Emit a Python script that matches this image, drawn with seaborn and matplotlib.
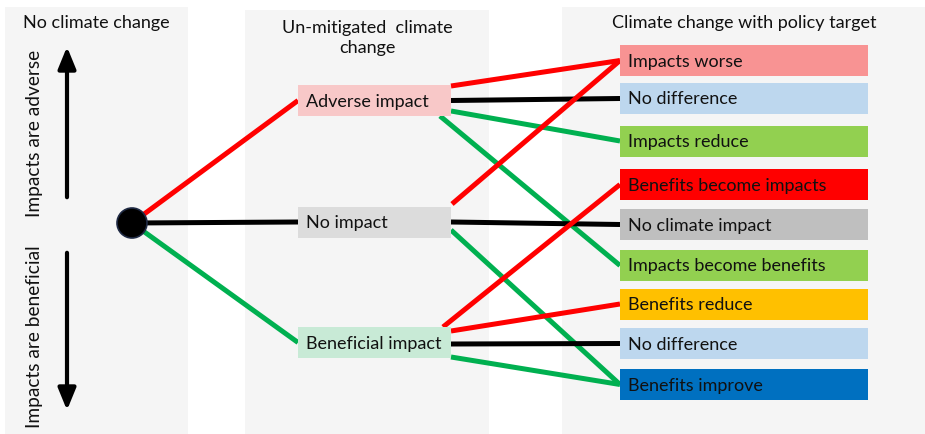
import matplotlib
matplotlib.use("Agg")
import matplotlib.pyplot as plt
import matplotlib.patches as mpatches
import seaborn as sns

sns.set_theme(style="white")
plt.rcParams['font.family'] = ['Lato', 'DejaVu Sans']

# column titles
column_titles = ["No climate change", "Un-mitigated  climate\nchange", "Climate change with policy target"]
axis_labels = ["Impacts are adverse", "Impacts are beneficial"]

# middle stage (un-mitigated)
middle_labels = ["Adverse impact", "No impact", "Beneficial impact"]
middle_colors = ["#f8c8c8", "#dcdcdc", "#c8ead6"]
middle_link_colors = ["#ff0000", "#000000", "#00b050"]

# right stage (with policy target)
right_labels = ["Impacts worse", "No difference", "Impacts reduce",
                "Benefits become impacts", "No climate impact", "Impacts become benefits",
                "Benefits reduce", "No difference", "Benefits improve"]
right_colors = ["#f89393", "#bdd7ee", "#92d050", "#ff0000", "#bfbfbf",
                "#92d050", "#ffc000", "#bdd7ee", "#0070c0"]

# links: (middle index, right index, kind)
links = [(0, 0, "worse"), (0, 1, "same"), (0, 2, "better"), (0, 5, "better"),
         (1, 0, "worse"), (1, 4, "same"), (1, 8, "better"),
         (2, 3, "worse"), (2, 6, "worse"), (2, 7, "same"), (2, 8, "better")]
kind_colors = {"worse": "#ff0000", "same": "#000000", "better": "#00b050"}

# ---- layout (pixel space) ----
W, H = 925, 434
panels = [(5, 7, 183, 430), (245, 10, 244, 430), (562, 7, 363, 430)]
title_pos = [(96, 23), (367, 38), (744, 23)]
mid_x0, mid_w, mid_h = 298, 153, 31
mid_cy = [100.5, 222, 342.5]
right_x0, right_w, right_h = 620, 248, 31
right_cy = [60.5, 98.5, 141, 184.5, 224.5, 265.5, 304, 343.5, 384.5]
# where each link leaves its source box (dx from right edge, dy from centre)
link_start = [(0, -14.5), (0, 0), (0, 10.5), (-11, 15.5),
              (1, -18), (0, 0), (0, 8),
              (-8, -15.5), (0, -11.5), (0, 1.5), (0, 14.5)]
dot = (132, 223)
fs = 13

fig = plt.figure(figsize=(W / 100, H / 100), dpi=100)
ax = fig.add_axes([0, 0, 1, 1])
ax.set_xlim(0, W)
ax.set_ylim(H, 0)
ax.axis("off")

for (x, y, w, h) in panels:
    ax.add_patch(mpatches.Rectangle((x, y), w, h, facecolor="#f5f5f5", edgecolor="none", zorder=0))
for t, (x, y) in zip(column_titles, title_pos):
    ax.text(x, y, t, ha="center", va="center", fontsize=fs, color="#111111",
            linespacing=1.35, zorder=5)

# side arrows and labels
ax.annotate("", xy=(67, 44), xytext=(67, 200),
            arrowprops=dict(arrowstyle="-|>,head_width=0.45,head_length=1.1", lw=3, color="black"))
ax.annotate("", xy=(67, 413), xytext=(67, 250),
            arrowprops=dict(arrowstyle="-|>,head_width=0.45,head_length=1.1", lw=3, color="black"))
ax.text(35, 133, axis_labels[0], rotation=90, ha="center", va="center", fontsize=13.8, color="#111111")
ax.text(35, 337, axis_labels[1], rotation=90, ha="center", va="center", fontsize=13.8, color="#111111")

# links from the dot to the middle stage
for cy, c in zip(mid_cy, middle_link_colors):
    ax.plot([dot[0], mid_x0], [dot[1], cy], color=c, lw=3.6, solid_capstyle="butt", zorder=2)
ax.add_patch(mpatches.Circle(dot, 15, facecolor="black", edgecolor="#1f2a44", lw=1.2, zorder=4))

# links from middle to right stage
for (s, t, kind), (dx, dy) in zip(links, link_start):
    x0 = mid_x0 + mid_w + dx
    y0 = mid_cy[s] + dy
    ax.plot([x0, right_x0], [y0, right_cy[t]], color=kind_colors[kind], lw=3.6,
            solid_capstyle="butt", zorder=2)

# boxes
for lab, c, cy in zip(middle_labels, middle_colors, mid_cy):
    ax.add_patch(mpatches.Rectangle((mid_x0, cy - mid_h / 2), mid_w, mid_h,
                                    facecolor=c, edgecolor="none", zorder=3))
    ax.text(mid_x0 + 8, cy + 1, lab, ha="left", va="center", fontsize=fs, color="#111111", zorder=5)
for lab, c, cy in zip(right_labels, right_colors, right_cy):
    ax.add_patch(mpatches.Rectangle((right_x0, cy - right_h / 2), right_w, right_h,
                                    facecolor=c, edgecolor="none", zorder=3))
    ax.text(right_x0 + 8, cy + 1, lab, ha="left", va="center", fontsize=fs, color="#111111", zorder=5)

fig.savefig("out.png", dpi=100)
